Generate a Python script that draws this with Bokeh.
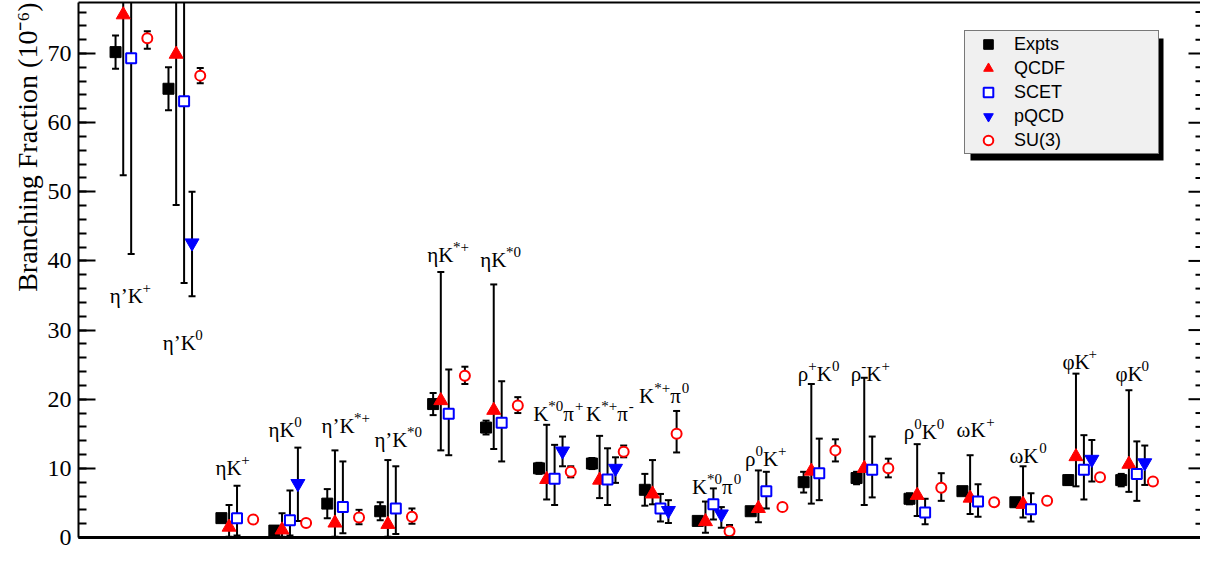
import re
import numpy as np
from bokeh.plotting import figure
from bokeh.models import (ColumnDataSource, Whisker, TeeHead, Legend, LegendItem, LinearAxis,
                          SingleIntervalTicker, FixedTicker, Range1d, BoxAnnotation, Title)
from bokeh.core.properties import value
from bokeh.embed import file_html
from bokeh.resources import INLINE

# ---------------- data ----------------
modes = ["η’K^{+}", "η’K^{0}", "ηK^{+}", "ηK^{0}", "η’K^{*+}", "η’K^{*0}", "ηK^{*+}", "ηK^{*0}",
         "K^{*0}π^{+}", "K^{*+}π^{-}", "K^{*+}π^{0}", "K^{*0}π^{0}", "ρ^{0}K^{+}", "ρ^{+}K^{0}",
         "ρ^{-}K^{+}", "ρ^{0}K^{0}", "ωK^{+}", "ωK^{0}", "φK^{+}", "φK^{0}"]

expt = [70.2, 64.9, 2.8, 1.0, 4.9, 3.8, 19.3, 15.9, 10.0, 10.7, 6.9, 2.4, 3.8, 8.0, 8.6, 5.6, 6.7, 5.1, 8.3, 8.3]
expt_err = [2.4, 3.1, 0.2, 0.3, 2.1, 1.3, 1.6, 1.0, 0.8, 0.8, 2.3, 0.6, 0.5, 1.5, 0.9, 0.8, 0.5, 0.6, 0.7, 0.9]

qcdf = [75.6, 69.9, 1.5, 1.1, 2.1, 1.9, 19.8, 18.4, 8.4, 8.3, 6.3, 2.3, 4.2, 9.6, 10.0, 6.1, 5.7, 4.8, 11.7, 10.6]
qcdf_up = [50.0, 45.0, 3.2, 2.4, 10.5, 9.3, 18.6, 18.2, 7.9, 6.4, 4.9, 2.9, 5.5, 12.6, 13.1, 7.4, 6.2, 5.5, 12.0, 10.7]
qcdf_dn = [23.2, 21.8, 1.4, 1.0, 2.0, 1.8, 7.2, 5.6, 2.9, 2.6, 1.5, 1.6, 2.0, 4.7, 5.3, 3.0, 2.3, 1.9, 4.3, 4.0]

scet = [69.3, 63.1, 2.8, 2.5, 4.4, 4.2, 17.9, 16.6, 8.5, 8.4, 4.2, 4.8, 6.7, 9.3, 9.8, 3.6, 5.2, 4.1, 9.8, 9.2]
scet_up = [28.0, 27.0, 4.7, 4.3, 6.6, 6.1, 6.4, 6.0, 4.9, 4.5, 2.1, 2.3, 2.8, 5.0, 4.8, 2.0, 2.5, 2.3, 5.0, 4.7]
scet_dn = [28.3, 26.3, 2.5, 2.2, 3.8, 3.7, 6.0, 5.6, 3.8, 3.7, 1.9, 2.2, 2.5, 3.9, 4.0, 1.7, 2.2, 1.8, 4.3, 3.9]

N = None
pqcd = [N, 42.6, N, 7.8, N, N, N, N, 12.5, 10.0, 3.9, 3.4, N, N, N, N, N, N, 11.3, 10.8]
pqcd_up = [N, 7.4, N, 5.2, N, N, N, N, 2.1, 1.6, 1.5, 1.0, N, N, N, N, N, N, 2.8, 2.5]
pqcd_dn = [N, 7.7, N, 5.4, N, N, N, N, 2.2, 2.1, 1.8, 2.0, N, N, N, N, N, N, 3.2, 3.2]

su3 = [72.2, 66.8, 2.6, 2.1, 2.9, 3.0, 23.4, 19.1, 9.5, 12.4, 15.0, 0.9, 4.4, 12.6, 10.0, 7.2, 5.1, 5.3, 8.7, 8.1]
su3_up = [1.0, 1.1, 0.3, 0.3, 1.1, 1.2, 1.3, 1.2, 0.8, 0.9, 3.3, 0.9, 0.4, 1.6, 1.4, 2.1, 0.4, 0.4, 0.4, 0.4]
su3_dn = [1.5, 1.1, 0.3, 0.3, 1.0, 1.0, 1.2, 1.1, 0.8, 0.8, 2.7, 0.9, 0.4, 1.6, 1.3, 1.9, 0.4, 0.4, 0.4, 0.4]

# label placement (baseline, in branching-fraction units)
label_y = [35.0, 28.2, 10.1, 15.5, 16.1, 14.1, 40.9, 40.1, 17.9, 17.9, 20.4, 7.3,
           11.3, 23.6, 23.7, 15.3, 15.5, 11.8, 25.4, 23.7]

# ---------------- layout constants ----------------
W, H = 1200, 549
BL, BR, BT, BB = 78, 0, 2, 12
FW, FH = W - BL - BR, H - BT - BB
PX_X = 52.93                     # px per category
PX_Y = (H - BB - 53) / 70.0      # px per unit (70 tick ~ 53px from top)
X0 = -0.70
X1 = X0 + FW / PX_X
Y1 = FH / PX_Y
OFFS = [0.0, 0.145, 0.295, 0.445, 0.60]

SERIF = "Liberation Serif"
SANS = "Liberation Sans"

p = figure(width=W, height=H, output_backend="svg", toolbar_location=None,
           x_range=Range1d(X0, X1), y_range=Range1d(0, Y1),
           min_border_left=BL, min_border_right=BR, min_border_top=BT, min_border_bottom=BB)
p.outline_line_color = None
p.xgrid.grid_line_color = None
p.ygrid.grid_line_color = None
p.background_fill_color = "white"

# bottom axis: line only
p.xaxis.ticker = FixedTicker(ticks=[])
p.xaxis.axis_line_width = 3
p.xaxis.axis_line_color = "black"
p.xaxis.major_tick_line_color = None
p.xaxis.minor_tick_line_color = None

# left axis
ya = p.yaxis[0]
ya.ticker = SingleIntervalTicker(interval=10, num_minor_ticks=5)
ya.axis_line_width = 2
ya.major_tick_in = 17
ya.major_tick_out = 0
ya.minor_tick_in = 8
ya.minor_tick_out = 0
ya.major_tick_line_width = 2
ya.minor_tick_line_width = 2
ya.major_label_text_font = SERIF
ya.major_label_text_font_size = "24px"
ya.major_label_text_color = "black"
ya.major_label_standoff = 7

# y title, aligned to the top end of the axis
p.add_layout(Title(text="Branching Fraction (10⁻⁶)", align="right", text_font=SERIF,
                   text_font_size="28px", text_font_style="normal", text_color="black",
                   standoff=4), "left")

# top frame line
ta = LinearAxis(ticker=FixedTicker(ticks=[]), axis_line_width=2, axis_line_color="black",
                major_tick_line_color=None, minor_tick_line_color=None)
p.add_layout(ta, "above")

# right-side inward ticks (mirror of the left axis ticks)
rt = np.arange(0, int(Y1) + 1, 2)
rlen = np.where(rt % 10 == 0, 12, 5) / PX_X
p.segment(x0=X1 - rlen, x1=np.full(len(rt), X1), y0=rt, y1=rt, line_color="black", line_width=2)

# ---------------- series ----------------
series = [
    dict(name="Expts", v=expt, up=expt_err, dn=expt_err, marker="square", size=11,
         fill="black", line="black", lw=1),
    dict(name="QCDF", v=qcdf, up=qcdf_up, dn=qcdf_dn, marker="triangle", size=14,
         fill="red", line="red", lw=1),
    dict(name="SCET", v=scet, up=scet_up, dn=scet_dn, marker="square", size=10,
         fill="white", line="blue", lw=2),
    dict(name="pQCD", v=pqcd, up=pqcd_up, dn=pqcd_dn, marker="inverted_triangle", size=14,
         fill="blue", line="blue", lw=1),
    dict(name="SU(3)", v=su3, up=su3_up, dn=su3_dn, marker="circle", size=10,
         fill="white", line="red", lw=2),
]

renderers = []
for k, s in enumerate(series):
    xs, ys, lo, hi = [], [], [], []
    for i, (v, u, d) in enumerate(zip(s["v"], s["up"], s["dn"])):
        if v is None:
            continue
        xs.append(i + OFFS[k])
        ys.append(v)
        lo.append(v - d)
        hi.append(v + u)
    src = ColumnDataSource(dict(x=xs, y=ys, lower=lo, upper=hi))
    wh = Whisker(source=src, base="x", lower="lower", upper="upper", dimension="height",
                 line_color="black", line_width=2, level="underlay",
                 upper_head=TeeHead(size=7, line_width=2, line_color="black"),
                 lower_head=TeeHead(size=7, line_width=2, line_color="black"))
    p.add_layout(wh)
    r = p.scatter("x", "y", source=src, marker=s["marker"], size=s["size"],
                  fill_color=s["fill"], line_color=s["line"], line_width=s["lw"])
    renderers.append(r)

# ---------------- mode labels ----------------
CW = {'η': 0.50, '’': 0.333, 'K': 0.722, 'π': 0.55, 'ρ': 0.50, 'ω': 0.69, 'φ': 0.52,
      '*': 0.5, '0': 0.5, '+': 0.564, '-': 0.333}
BASE_FS, SUP_FS = 21, 15
LABEL_DX = -0.11

base_rows = dict(x=[], y=[], text=[], xo=[])
sup_rows = dict(x=[], y=[], text=[], xo=[])
for i, lbl in enumerate(modes):
    off = 0.0
    for part in re.split(r"(\^\{[^}]*\})", lbl):
        if not part:
            continue
        if part.startswith("^{"):
            t = part[2:-1]
            rows, fs = sup_rows, SUP_FS
        else:
            t = part
            rows, fs = base_rows, BASE_FS
        rows["x"].append(i + LABEL_DX)
        rows["y"].append(label_y[i])
        rows["text"].append(t)
        rows["xo"].append(off)
        off += sum(CW.get(c, 0.5) for c in t) * fs

p.text("x", "y", text="text", x_offset="xo", source=ColumnDataSource(base_rows),
       text_font=value(SERIF), text_font_size=f"{BASE_FS}px", text_color="black",
       text_baseline="alphabetic", text_align="left")
p.text("x", "y", text="text", x_offset="xo", y_offset=-8, source=ColumnDataSource(sup_rows),
       text_font=value(SERIF), text_font_size=f"{SUP_FS}px", text_color="black",
       text_baseline="alphabetic", text_align="left")

# ---------------- legend ----------------
def px2x(px):
    return X0 + (px - BL) / PX_X

def px2y(py):
    return (H - BB - py) / PX_Y

LEG_L, LEG_T, LEG_R, LEG_B = 964, 32, 1157, 154
SH = 6
p.add_layout(BoxAnnotation(left=px2x(LEG_L + SH), right=px2x(LEG_R + SH),
                           top=px2y(LEG_T + SH), bottom=px2y(LEG_B + SH),
                           fill_color="black", fill_alpha=1.0, line_color=None,
                           level="annotation"))

legend = Legend(items=[LegendItem(label=s["name"], renderers=[r]) for s, r in zip(series, renderers)],
                location=(LEG_L - BL, (H - BB) - LEG_B),
                glyph_width=44, glyph_height=24, label_height=24, spacing=0, padding=1,
                label_standoff=4, label_width=LEG_R - LEG_L - 1 - 44 - 4 - 1,
                margin=0, background_fill_color="#f0f0f0", background_fill_alpha=1.0,
                border_line_color="black", border_line_width=1,
                label_text_font=SANS, label_text_font_size="18px", label_text_color="black")
p.add_layout(legend, "center")

open("out.html", "w").write(file_html(p, INLINE))
